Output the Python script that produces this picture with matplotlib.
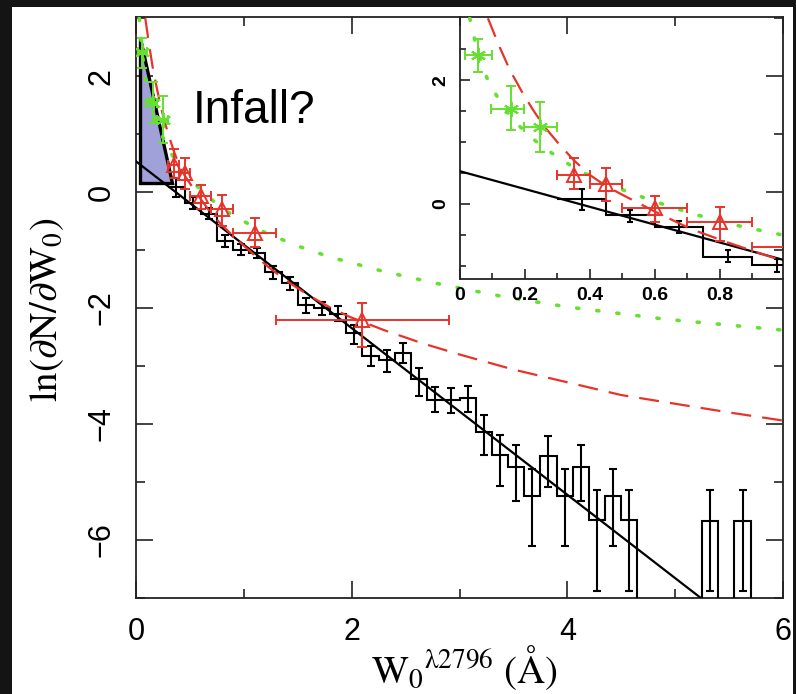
import numpy as np
import matplotlib
matplotlib.use('Agg')
import matplotlib.pyplot as plt
from matplotlib.patches import Rectangle, Polygon

plt.rcParams['mathtext.fontset'] = 'stix'
plt.rcParams['font.family'] = ['Liberation Sans', 'DejaVu Sans']

nan = np.nan
# ---------------- data ----------------
hist_edges = [0.30, 0.45, 0.60, 0.75, 0.90, 1.05, 1.20, 1.35, 1.50, 1.65, 1.80, 1.95,
              2.10, 2.25, 2.40, 2.55, 2.70, 2.85, 3.00, 3.15, 3.30, 3.45, 3.60, 3.75,
              3.90, 4.05, 4.20, 4.35, 4.50, 4.65, 4.80, 4.95, 5.10, 5.25, 5.40, 5.55,
              5.70, 5.85]
hist_vals = [0.08, -0.18, -0.37, -0.85, -0.99, -1.05, -1.38, -1.57, -1.95, -2.00,
             -2.10, -2.43, -2.82, -2.90, -2.77, -3.23, -3.59, -3.59, -3.55, -4.14,
             -4.53, -4.74, -5.24, -4.55, -5.24, -4.74, -5.66, -5.24, -5.66, nan,
             nan, nan, nan, -5.67, nan, -5.67, nan]
hist_lo = [-0.09, -0.29, -0.46, -0.94, -1.09, -1.14, -1.50, -1.69, -2.08, -2.12,
           -2.22, -2.62, -3.00, -3.10, -2.95, -3.52, -3.80, -3.81, -3.80, -4.53,
           -5.07, -5.33, -6.10, -5.08, -6.10, -5.33, -6.88, -6.10, -6.88, nan,
           nan, nan, nan, -6.88, nan, -6.88, nan]
hist_hi = [0.24, -0.09, -0.28, -0.74, -0.89, -0.96, -1.28, -1.47, -1.83, -1.90,
           -1.97, -2.29, -2.65, -2.72, -2.61, -3.04, -3.36, -3.38, -3.34, -3.84,
           -4.19, -4.36, -4.78, -4.21, -4.78, -4.36, -5.14, -4.78, -5.14, nan,
           nan, nan, nan, -5.14, nan, -5.14, nan]

fit_w = [0.0, 5.6]
fit_v = [0.53, -7.52]

red_w = [0.086, 0.12, 0.154, 0.19, 0.225, 0.26, 0.30, 0.35, 0.40, 0.45, 0.50, 0.60,
         0.71, 0.83, 0.95, 1.10, 1.24, 1.42, 1.61, 1.80, 1.98, 2.30, 2.66, 3.00,
         3.50, 4.00, 4.50, 5.00, 5.50, 6.00]
red_v = [3.0, 2.56, 2.16, 1.82, 1.52, 1.25, 1.00, 0.71, 0.47, 0.29, 0.15, -0.12,
         -0.40, -0.63, -0.84, -1.09, -1.31, -1.56, -1.79, -1.99, -2.15, -2.38, -2.61,
         -2.80, -3.06, -3.28, -3.50, -3.65, -3.80, -3.94]

green_w = [0.03, 0.05, 0.07, 0.09, 0.113, 0.14, 0.175, 0.21, 0.246, 0.30, 0.36, 0.43,
           0.53, 0.64, 0.74, 0.84, 0.975, 1.2, 1.5, 1.8, 2.3, 2.8, 3.4, 4.0, 4.9, 6.0]
green_v = [3.0, 2.55, 2.2, 1.95, 1.75, 1.52, 1.30, 1.12, 0.96, 0.76, 0.56, 0.38,
           0.17, -0.03, -0.19, -0.33, -0.48, -0.70, -0.93, -1.12, -1.37, -1.58,
           -1.80, -1.98, -2.19, -2.38]

tri_w = [0.35, 0.45, 0.60, 0.80, 1.10, 2.10]
tri_v = [0.47, 0.33, -0.07, -0.29, -0.70, -2.20]
tri_wlo = [0.30, 0.40, 0.50, 0.70, 0.90, 1.30]
tri_whi = [0.40, 0.50, 0.70, 0.90, 1.30, 2.90]
tri_vlo = [0.24, 0.05, -0.29, -0.59, -0.94, -2.67]
tri_vhi = [0.74, 0.58, 0.13, -0.05, -0.45, -1.91]

ast_w = [0.056, 0.157, 0.246]
ast_v = [2.41, 1.54, 1.24]
ast_wlo = [0.015, 0.095, 0.196]
ast_whi = [0.100, 0.197, 0.298]
ast_vlo = [2.14, 1.19, 0.84]
ast_vhi = [2.66, 1.90, 1.65]

infall_w = [0.035, 0.035, 0.33]
infall_v = [2.66, 0.16, 0.16]

RED = '#e8332b'
GREEN = '#66e030'
FILL = '#9fa1d8'

# ---------------- figure ----------------
W, H = 796, 694
fig = plt.figure(figsize=(W / 100, H / 100), dpi=100, facecolor='#141414')
fig.patches.append(Rectangle((12 / W, 0), (793 - 12) / W, 1 - 7 / H,
                             transform=fig.transFigure, facecolor='white',
                             edgecolor='none', zorder=-10))

ax = fig.add_axes([136 / W, 1 - 598 / H, (783 - 136) / W, (598 - 17) / H])
ins = fig.add_axes([460 / W, 1 - 279 / H, (783 - 460) / W, (279 - 17) / H])
ax.set_zorder(1)
ins.set_zorder(2)
ins.set_facecolor('none')

hv = np.array(hist_vals, dtype=float)
hlo = np.array(hist_lo, dtype=float)
hhi = np.array(hist_hi, dtype=float)
edges = np.array(hist_edges)
centers = 0.5 * (edges[:-1] + edges[1:])
ok = ~np.isnan(hv)


def draw(a, big):
    lw = 1.5
    draw_vals = np.where(np.isnan(hv), -30.0, hv)
    a.stairs(draw_vals, edges, baseline=None, color='k', lw=lw, zorder=3)
    a.errorbar(centers[ok], hv[ok], yerr=[hv[ok] - hlo[ok], hhi[ok] - hv[ok]],
               fmt='none', ecolor='k', elinewidth=lw, capsize=3.2 if big else 2.5,
               capthick=lw, zorder=3)
    a.plot(fit_w, fit_v, color='k', lw=1.6, zorder=4)
    a.plot(red_w, red_v, color=RED, lw=1.6, ls=(0, (9, 5)), zorder=4)
    a.plot(green_w, green_v, color=GREEN, lw=2.6, ls=(0, (0.6, 5.0)),
           dash_capstyle='round', zorder=4)
    tw = np.array(tri_w); tv = np.array(tri_v)
    a.errorbar(tw, tv, xerr=[tw - np.array(tri_wlo), np.array(tri_whi) - tw],
               yerr=[tv - np.array(tri_vlo), np.array(tri_vhi) - tv],
               fmt='^', mfc='none', mec=RED, ms=10, mew=1.4, ecolor=RED,
               elinewidth=1.4, capsize=3.5, capthick=1.4, zorder=5)
    aw = np.array(ast_w); av = np.array(ast_v)
    a.errorbar(aw, av, xerr=[aw - np.array(ast_wlo), np.array(ast_whi) - aw],
               yerr=[av - np.array(ast_vlo), np.array(ast_vhi) - av],
               fmt='none', ecolor=GREEN, elinewidth=1.4, capsize=3.5,
               capthick=1.4, zorder=5)
    a.plot(aw, av, ls='none', marker=(6, 2, 0), ms=11, mew=1.4, color=GREEN,
           zorder=5)


draw(ax, True)
tri = Polygon(list(zip(infall_w, infall_v)), closed=True, facecolor=FILL,
              edgecolor='k', lw=2.4, zorder=2)
ax.add_patch(tri)
ax.text(0.53, 1.19, 'Infall?', fontsize=33, family='Liberation Sans',
        ha='left', va='baseline', zorder=6)

ax.set_xlim(0, 6)
ax.set_ylim(-7, 3.02)
ax.set_xticks([0, 2, 4, 6])
ax.set_xticks([1, 3, 5], minor=True)
ax.set_yticks([-6, -4, -2, 0, 2])
ax.set_yticks([-7, -5, -3, -1, 1, 3], minor=True)
ax.tick_params(which='both', direction='in', top=True, right=True, width=1.2,
               color='#222222')
ax.tick_params(which='major', length=12.5, labelsize=22)
ax.tick_params(which='minor', length=6.5)
ax.tick_params(axis='x', which='major', pad=14)
ax.tick_params(axis='y', which='major', pad=14, labelrotation=90)
for lab in ax.get_yticklabels():
    lab.set_va('center')
for s in ax.spines.values():
    s.set_linewidth(1.3)
    s.set_color('#222222')

# inset
draw(ins, False)
ins.set_xlim(0, 0.995)
ins.set_ylim(-1.21, 3.02)
ins.set_xticks([0, 0.2, 0.4, 0.6, 0.8])
ins.set_xticklabels(['0', '0.2', '0.4', '0.6', '0.8'])
ins.set_xticks([0.1, 0.3, 0.5, 0.7, 0.9], minor=True)
ins.set_yticks([0, 2])
ins.set_yticks([-1.0, -0.5, 0.5, 1.0, 1.5, 2.5], minor=True)
ins.tick_params(which='both', direction='in', top=False, right=False, width=1.2,
                color='#222222')
ins.tick_params(which='major', length=7.5, labelsize=14)
ins.tick_params(which='minor', length=4)
ins.tick_params(axis='x', which='major', pad=6)
ins.tick_params(axis='y', which='major', pad=8, labelrotation=90)
for lab in ins.get_yticklabels() + ins.get_xticklabels():
    lab.set_fontweight('bold')
for lab in ins.get_yticklabels():
    lab.set_va('center')
ins.spines['top'].set_visible(False)
ins.spines['right'].set_visible(False)
for k in ('left', 'bottom'):
    ins.spines[k].set_linewidth(1.3)
    ins.spines[k].set_color('#222222')

fig.text(47 / W, 1 - 310 / H, r'$\mathrm{ln}(\partial\mathrm{N}/\partial\mathrm{W}_0)$',
         rotation=90, ha='center', va='center', fontsize=28)
fig.text(464 / W, 1 - 668 / H, r'$\mathrm{W_0{}^{\lambda2796}}\ \mathrm{(\AA)}$',
         ha='center', va='center', fontsize=28)

fig.savefig('out.png', dpi=100, facecolor=fig.get_facecolor())
